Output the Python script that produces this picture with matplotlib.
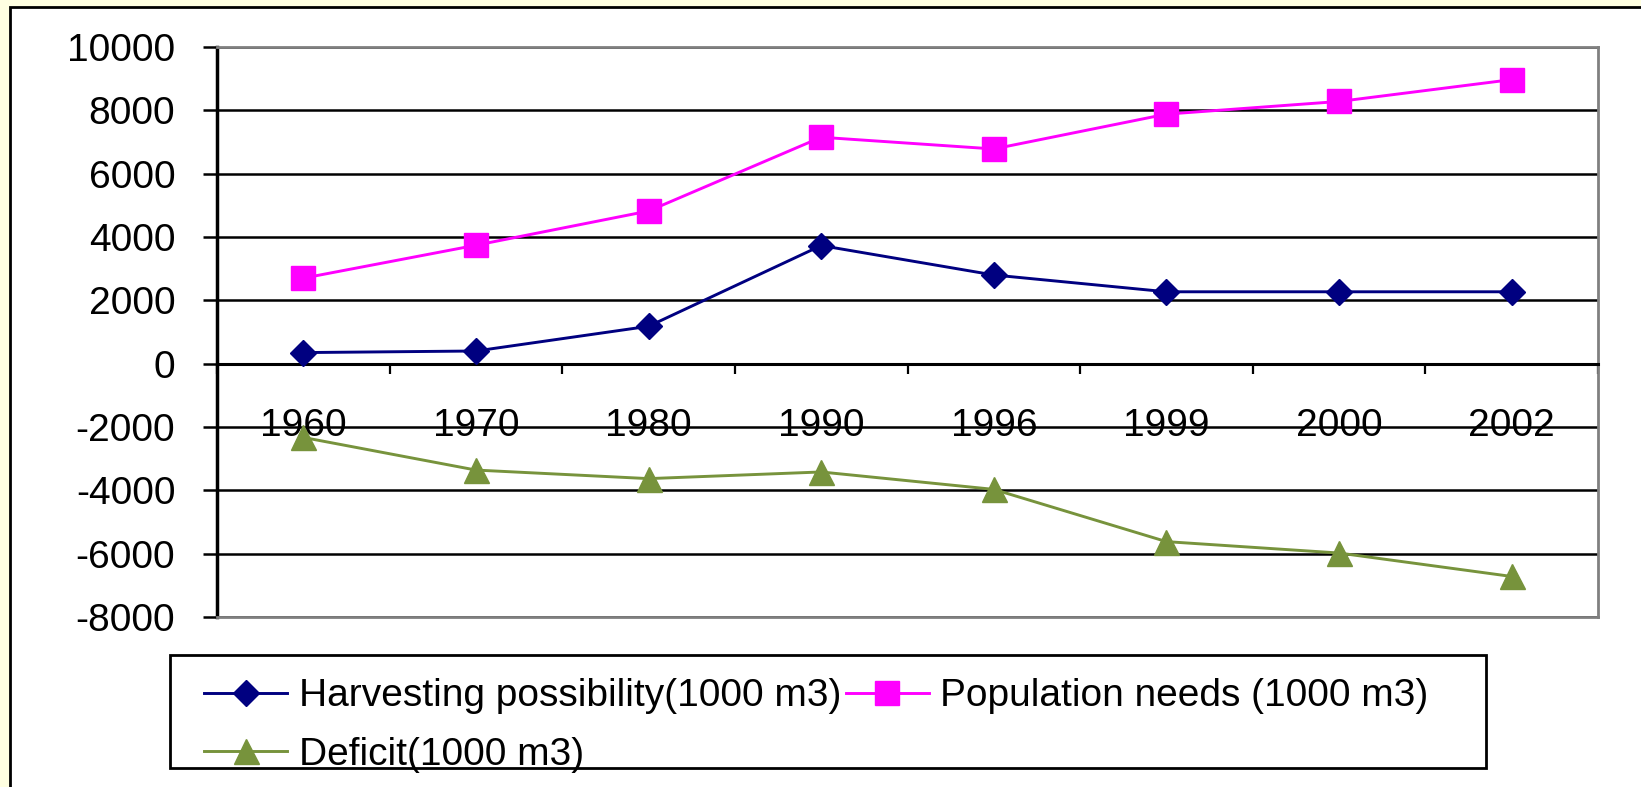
import matplotlib
matplotlib.use('Agg')
import matplotlib.pyplot as plt
from matplotlib.patches import Rectangle

plt.rcParams['font.family'] = ['Liberation Sans', 'DejaVu Sans']
plt.rcParams['axes.unicode_minus'] = False

# data (1000 m3)
years = ['1960', '1970', '1980', '1990', '1996', '1999', '2000', '2002']
harvesting = [350, 400, 1180, 3730, 2800, 2270, 2270, 2270]
population = [2700, 3740, 4820, 7150, 6780, 7880, 8280, 8970]
deficit = [-2330, -3360, -3630, -3420, -3970, -5620, -5980, -6720]

W, H = 1641, 787
fig = plt.figure(figsize=(W / 100, H / 100), dpi=100, facecolor='#FFFFE1')

# white chart area with black border
fig.patches.append(Rectangle((10 / W, -0.05), 1.1, 1 - 7 / H + 0.05, transform=fig.transFigure,
                             facecolor='white', edgecolor='black', lw=2, zorder=-2))

ax = fig.add_axes([217 / W, 1 - 617 / H, (1598 - 217) / W, (617 - 47) / H])
ax.set_facecolor('none')

x = list(range(len(years)))
l1, = ax.plot(x, harvesting, color='#000080', lw=2.1, marker='D', ms=13, zorder=3)
l2, = ax.plot(x, population, color='#FF00FF', lw=2.1, marker='s', ms=17, zorder=3)
l3, = ax.plot(x, deficit, color='#77933C', lw=2.1, marker='^', ms=18, zorder=3)

ax.set_xlim(-0.5, 7.5)
ax.set_ylim(-8000, 10000)
ax.set_yticks(range(-8000, 10001, 2000))
ax.tick_params(axis='y', labelsize=28, length=10, width=1.8, pad=20, direction='out')

ax.set_xticks(x)
ax.set_xticklabels(years)
ax.set_xticks([i - 0.5 for i in range(len(years) + 1)], minor=True)
ax.tick_params(axis='x', which='major', length=0, labelsize=28, pad=32)
ax.tick_params(axis='x', which='minor', length=7, width=1.6, direction='out')

ax.set_axisbelow(True)
ax.grid(axis='y', color='black', lw=1.8)

ax.spines['bottom'].set_position(('data', 0))
ax.spines['bottom'].set_linewidth(2.2)
ax.spines['left'].set_linewidth(2.5)
for s in ['top', 'right']:
    ax.spines[s].set_color('#808080')
    ax.spines[s].set_linewidth(2)
ax.axhline(-8000, color='#808080', lw=2, clip_on=False, zorder=2.6)

# legend box
fig.patches.append(Rectangle((170 / W, 1 - 768 / H), (1486 - 170) / W, 113 / H,
                             transform=fig.transFigure, facecolor='white',
                             edgecolor='black', lw=2, zorder=-1))
fig.legend([l1, l3, l2],
           ['Harvesting possibility(1000 m3)', 'Deficit(1000 m3)', 'Population needs (1000 m3)'],
           loc='upper left', bbox_to_anchor=(185 / W, 1 - 659 / H), ncol=2, frameon=False,
           fontsize=28, borderpad=0, handlelength=2.13, handletextpad=0.3,
           labelspacing=0.57, columnspacing=0.12)

fig.savefig('out.png', dpi=100, facecolor=fig.get_facecolor())
